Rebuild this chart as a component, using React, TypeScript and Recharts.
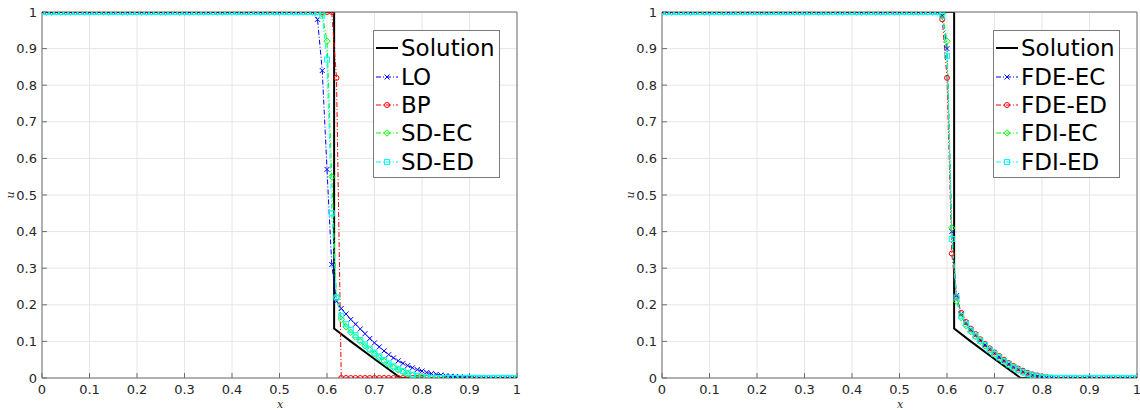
import React from 'react';
import { LineChart, Line, XAxis, YAxis, CartesianGrid } from 'recharts';

const xs = [
  0, 0.01, 0.02, 0.03, 0.04, 0.05, 0.06, 0.07, 0.08, 0.09,
  0.1, 0.11, 0.12, 0.13, 0.14, 0.15, 0.16, 0.17, 0.18, 0.19,
  0.2, 0.21, 0.22, 0.23, 0.24, 0.25, 0.26, 0.27, 0.28, 0.29,
  0.3, 0.31, 0.32, 0.33, 0.34, 0.35, 0.36, 0.37, 0.38, 0.39,
  0.4, 0.41, 0.42, 0.43, 0.44, 0.45, 0.46, 0.47, 0.48, 0.49,
  0.5, 0.51, 0.52, 0.53, 0.54, 0.55, 0.56, 0.57, 0.58, 0.59,
  0.6, 0.61, 0.62, 0.63, 0.64, 0.65, 0.66, 0.67, 0.68, 0.69,
  0.7, 0.71, 0.72, 0.73, 0.74, 0.75, 0.76, 0.77, 0.78, 0.79,
  0.8, 0.81, 0.82, 0.83, 0.84, 0.85, 0.86, 0.87, 0.88, 0.89,
  0.9, 0.91, 0.92, 0.93, 0.94, 0.95, 0.96, 0.97, 0.98, 0.99,
  1,
];

const solutionX = [0, 0.615, 0.615, 0.65, 0.7, 0.755, 1];
const solutionU = [1, 1, 0.135, 0.1, 0.052, 0, 0];

const loU = [
  1, 1, 1, 1, 1, 1, 1, 1, 1, 1,
  1, 1, 1, 1, 1, 1, 1, 1, 1, 1,
  1, 1, 1, 1, 1, 1, 1, 1, 1, 1,
  1, 1, 1, 1, 1, 1, 1, 1, 1, 1,
  1, 1, 1, 1, 1, 1, 1, 1, 1, 1,
  1, 1, 1, 1, 1, 1, 1, 1, 0.98, 0.84,
  0.57, 0.31, 0.21, 0.19, 0.175, 0.16, 0.147, 0.134, 0.121, 0.108,
  0.096, 0.085, 0.074, 0.064, 0.055, 0.047, 0.04, 0.034, 0.028, 0.023,
  0.019, 0.015, 0.012, 0.01, 0.008, 0.006, 0.005, 0.004, 0.003, 0.002,
  0.0015, 0.001, 0.0006, 0.0003, 0, 0, 0, 0, 0, 0,
  0,
];

const bpU = [
  1, 1, 1, 1, 1, 1, 1, 1, 1, 1,
  1, 1, 1, 1, 1, 1, 1, 1, 1, 1,
  1, 1, 1, 1, 1, 1, 1, 1, 1, 1,
  1, 1, 1, 1, 1, 1, 1, 1, 1, 1,
  1, 1, 1, 1, 1, 1, 1, 1, 1, 1,
  1, 1, 1, 1, 1, 1, 1, 1, 1, 1,
  1, 1, 0.82, 0, 0, 0, 0, 0, 0, 0,
  0, 0, 0, 0, 0, 0, 0, 0, 0, 0,
  0, 0, 0, 0, 0, 0, 0, 0, 0, 0,
  0, 0, 0, 0, 0, 0, 0, 0, 0, 0,
  0,
];

const sdEcU = [
  1, 1, 1, 1, 1, 1, 1, 1, 1, 1,
  1, 1, 1, 1, 1, 1, 1, 1, 1, 1,
  1, 1, 1, 1, 1, 1, 1, 1, 1, 1,
  1, 1, 1, 1, 1, 1, 1, 1, 1, 1,
  1, 1, 1, 1, 1, 1, 1, 1, 1, 1,
  1, 1, 1, 1, 1, 1, 1, 1, 1, 0.995,
  0.92, 0.55, 0.22, 0.16, 0.14, 0.125, 0.112, 0.1, 0.088, 0.077,
  0.066, 0.056, 0.046, 0.037, 0.029, 0.022, 0.016, 0.011, 0.007, 0.004,
  0.002, 0.001, 0, 0, 0, 0, 0, 0, 0, 0,
  0, 0, 0, 0, 0, 0, 0, 0, 0, 0,
  0,
];

const sdEdU = [
  1, 1, 1, 1, 1, 1, 1, 1, 1, 1,
  1, 1, 1, 1, 1, 1, 1, 1, 1, 1,
  1, 1, 1, 1, 1, 1, 1, 1, 1, 1,
  1, 1, 1, 1, 1, 1, 1, 1, 1, 1,
  1, 1, 1, 1, 1, 1, 1, 1, 1, 1,
  1, 1, 1, 1, 1, 1, 1, 1, 1, 0.99,
  0.87, 0.45, 0.22, 0.17, 0.147, 0.131, 0.117, 0.104, 0.092, 0.08,
  0.069, 0.059, 0.049, 0.04, 0.032, 0.025, 0.019, 0.014, 0.009, 0.006,
  0.003, 0.0015, 0, 0, 0, 0, 0, 0, 0, 0,
  0, 0, 0, 0, 0, 0, 0, 0, 0, 0,
  0,
];

const fdeEcU = [
  1, 1, 1, 1, 1, 1, 1, 1, 1, 1,
  1, 1, 1, 1, 1, 1, 1, 1, 1, 1,
  1, 1, 1, 1, 1, 1, 1, 1, 1, 1,
  1, 1, 1, 1, 1, 1, 1, 1, 1, 1,
  1, 1, 1, 1, 1, 1, 1, 1, 1, 1,
  1, 1, 1, 1, 1, 1, 1, 1, 1, 0.99,
  0.9, 0.4, 0.225, 0.175, 0.15, 0.132, 0.117, 0.103, 0.09, 0.078,
  0.067, 0.057, 0.047, 0.038, 0.03, 0.023, 0.017, 0.012, 0.008, 0.005,
  0.003, 0.0015, 0.0007, 0, 0, 0, 0, 0, 0, 0,
  0, 0, 0, 0, 0, 0, 0, 0, 0, 0,
  0,
];

const fdeEdU = [
  1, 1, 1, 1, 1, 1, 1, 1, 1, 1,
  1, 1, 1, 1, 1, 1, 1, 1, 1, 1,
  1, 1, 1, 1, 1, 1, 1, 1, 1, 1,
  1, 1, 1, 1, 1, 1, 1, 1, 1, 1,
  1, 1, 1, 1, 1, 1, 1, 1, 1, 1,
  1, 1, 1, 1, 1, 1, 1, 1, 1, 0.98,
  0.82, 0.34, 0.22, 0.178, 0.153, 0.135, 0.12, 0.106, 0.093, 0.081,
  0.07, 0.06, 0.05, 0.041, 0.033, 0.026, 0.02, 0.014, 0.01, 0.007,
  0.004, 0.002, 0.001, 0, 0, 0, 0, 0, 0, 0,
  0, 0, 0, 0, 0, 0, 0, 0, 0, 0,
  0,
];

const fdiEcU = [
  1, 1, 1, 1, 1, 1, 1, 1, 1, 1,
  1, 1, 1, 1, 1, 1, 1, 1, 1, 1,
  1, 1, 1, 1, 1, 1, 1, 1, 1, 1,
  1, 1, 1, 1, 1, 1, 1, 1, 1, 1,
  1, 1, 1, 1, 1, 1, 1, 1, 1, 1,
  1, 1, 1, 1, 1, 1, 1, 1, 1, 0.995,
  0.92, 0.41, 0.21, 0.165, 0.143, 0.127, 0.113, 0.1, 0.088, 0.076,
  0.065, 0.055, 0.045, 0.036, 0.028, 0.021, 0.015, 0.01, 0.006, 0.004,
  0.002, 0.001, 0.0005, 0, 0, 0, 0, 0, 0, 0,
  0, 0, 0, 0, 0, 0, 0, 0, 0, 0,
  0,
];

const fdiEdU = [
  1, 1, 1, 1, 1, 1, 1, 1, 1, 1,
  1, 1, 1, 1, 1, 1, 1, 1, 1, 1,
  1, 1, 1, 1, 1, 1, 1, 1, 1, 1,
  1, 1, 1, 1, 1, 1, 1, 1, 1, 1,
  1, 1, 1, 1, 1, 1, 1, 1, 1, 1,
  1, 1, 1, 1, 1, 1, 1, 1, 1, 0.99,
  0.88, 0.38, 0.22, 0.17, 0.147, 0.13, 0.115, 0.102, 0.089, 0.077,
  0.066, 0.056, 0.046, 0.037, 0.029, 0.022, 0.016, 0.011, 0.007, 0.004,
  0.002, 0.001, 0.0005, 0, 0, 0, 0, 0, 0, 0,
  0, 0, 0, 0, 0, 0, 0, 0, 0, 0,
  0,
];

const axisTicks = [0, 0.1, 0.2, 0.3, 0.4, 0.5, 0.6, 0.7, 0.8, 0.9, 1];
const leftNames = ['LO', 'BP', 'SD-EC', 'SD-ED'];
const rightNames = ['FDE-EC', 'FDE-ED', 'FDI-EC', 'FDI-ED'];
const solutionName = 'Solution';

const seriesColors = ['#0000ff', '#ff0000', '#00ff00', '#00ffff'];
type MarkerKind = 'x' | 'o' | 'd' | 's';
const seriesMarkers: MarkerKind[] = ['x', 'o', 'd', 's'];

const toRows = (xv: number[], yv: number[]) => xv.map((x, i) => ({ x, y: yv[i] }));

const Marker = ({ kind, cx, cy, color }: { kind: MarkerKind; cx: number; cy: number; color: string }) => {
  const r = 2.5;
  if (kind === 'x') {
    return (
      <g stroke={color} strokeWidth={1} fill="none">
        <line x1={cx - r} y1={cy - r} x2={cx + r} y2={cy + r} />
        <line x1={cx - r} y1={cy + r} x2={cx + r} y2={cy - r} />
      </g>
    );
  }
  if (kind === 'o') return <circle cx={cx} cy={cy} r={r} stroke={color} strokeWidth={1} fill="none" />;
  if (kind === 'd') {
    const d = 3.2;
    return (
      <polygon
        points={`${cx},${cy - d} ${cx + d},${cy} ${cx},${cy + d} ${cx - d},${cy}`}
        stroke={color}
        strokeWidth={1}
        fill="none"
      />
    );
  }
  return <rect x={cx - r} y={cy - r} width={2 * r} height={2 * r} stroke={color} strokeWidth={1} fill="none" />;
};

const makeDot = (kind: MarkerKind, color: string) => (props: any) => {
  const { cx, cy, index } = props;
  if (cx == null || cy == null || isNaN(cx) || isNaN(cy)) return <g key={`e-${index}`} />;
  return <Marker key={`m-${index}`} kind={kind} cx={cx} cy={cy} color={color} />;
};

const W = 570;
const H = 410;
const MARGIN = { top: 11, right: 52, bottom: 0, left: 0 };
const DASH = '5 2 1 2';
const tickStyle = { fill: '#262626', fontSize: 13, fontFamily: 'DejaVu Sans' };
const axisColor = '#6e6e6e';

const LegendBox = ({ names }: { names: string[] }) => {
  const rows = [18, 47, 75, 103, 132];
  return (
    <div style={{ position: 'absolute', left: 373, top: 30, width: 127, height: 148 }}>
      <svg width={127} height={148}>
        <rect x={0.5} y={0.5} width={126} height={147} fill="#ffffff" stroke="#7a7a7a" strokeWidth={1} />
        <line x1={3} y1={rows[0]} x2={25} y2={rows[0]} stroke="#000" strokeWidth={2} />
        <text x={28} y={rows[0]} dominantBaseline="central" fontSize={23} fontFamily="DejaVu Sans" fill="#000">
          {solutionName}
        </text>
        {names.map((n, i) => (
          <g key={n}>
            <line x1={3} y1={rows[i + 1]} x2={25} y2={rows[i + 1]} stroke={seriesColors[i]} strokeWidth={1} strokeDasharray={DASH} />
            <Marker kind={seriesMarkers[i]} cx={14} cy={rows[i + 1]} color={seriesColors[i]} />
            <text x={28} y={rows[i + 1]} dominantBaseline="central" fontSize={23} fontFamily="DejaVu Sans" fill="#000">
              {n}
            </text>
          </g>
        ))}
      </svg>
    </div>
  );
};

const Panel = ({ left, names, values }: { left: number; names: string[]; values: number[][] }) => {
  const solRows = toRows(solutionX, solutionU);
  return (
    <div style={{ position: 'absolute', left, top: 0, width: W, height: H }}>
      <LineChart width={W} height={H} margin={MARGIN}>
        <CartesianGrid stroke="#e6e6e6" strokeWidth={1} />
        <XAxis
          dataKey="x"
          type="number"
          domain={[0, 1]}
          ticks={axisTicks}
          interval={0}
          height={32}
          tickSize={-5}
          tickMargin={12}
          tick={tickStyle}
          axisLine={{ stroke: axisColor }}
          tickLine={{ stroke: axisColor }}
          allowDataOverflow
        />
        <XAxis
          xAxisId="top"
          orientation="top"
          dataKey="x"
          type="number"
          domain={[0, 1]}
          ticks={axisTicks}
          interval={0}
          height={1}
          tickSize={-5}
          tickFormatter={() => ''}
          axisLine={{ stroke: axisColor }}
          tickLine={{ stroke: axisColor }}
        />
        <YAxis
          type="number"
          domain={[0, 1]}
          ticks={axisTicks}
          interval={0}
          width={42}
          tickSize={-5}
          tickMargin={10}
          tick={tickStyle}
          axisLine={{ stroke: axisColor }}
          tickLine={{ stroke: axisColor }}
          allowDataOverflow
        />
        <YAxis
          yAxisId="right"
          orientation="right"
          type="number"
          domain={[0, 1]}
          ticks={axisTicks}
          interval={0}
          width={1}
          tickSize={-5}
          tickFormatter={() => ''}
          axisLine={{ stroke: axisColor }}
          tickLine={{ stroke: axisColor }}
        />
        <Line
          data={solRows}
          dataKey="y"
          type="linear"
          stroke="#000000"
          strokeWidth={2}
          dot={false}
          activeDot={false}
          isAnimationActive={false}
        />
        {values.map((vals, i) => (
          <Line
            key={names[i]}
            data={toRows(xs, vals)}
            dataKey="y"
            name={names[i]}
            type="linear"
            stroke={seriesColors[i]}
            strokeWidth={1}
            strokeDasharray={DASH}
            dot={makeDot(seriesMarkers[i], seriesColors[i])}
            activeDot={false}
            isAnimationActive={false}
          />
        ))}
      </LineChart>
      <LegendBox names={names} />
      <div
        style={{
          position: 'absolute',
          left: 280,
          top: 404,
          transform: 'translate(-50%, -50%)',
          fontFamily: 'DejaVu Serif',
          fontStyle: 'italic',
          fontSize: 11,
          color: '#262626',
          lineHeight: 1,
        }}
      >
        x
      </div>
      <div
        style={{
          position: 'absolute',
          left: 10,
          top: 195,
          transform: 'translate(-50%, -50%) rotate(-90deg)',
          fontFamily: 'DejaVu Serif',
          fontStyle: 'italic',
          fontSize: 11,
          color: '#262626',
          lineHeight: 1,
        }}
      >
        u
      </div>
    </div>
  );
};

export default function App() {
  return (
    <div style={{ position: 'absolute', left: 0, top: 0, width: 1140, height: 410, background: '#ffffff', overflow: 'hidden' }}>
      <Panel left={0} names={leftNames} values={[loU, bpU, sdEcU, sdEdU]} />
      <Panel left={620} names={rightNames} values={[fdeEcU, fdeEdU, fdiEcU, fdiEdU]} />
    </div>
  );
}
